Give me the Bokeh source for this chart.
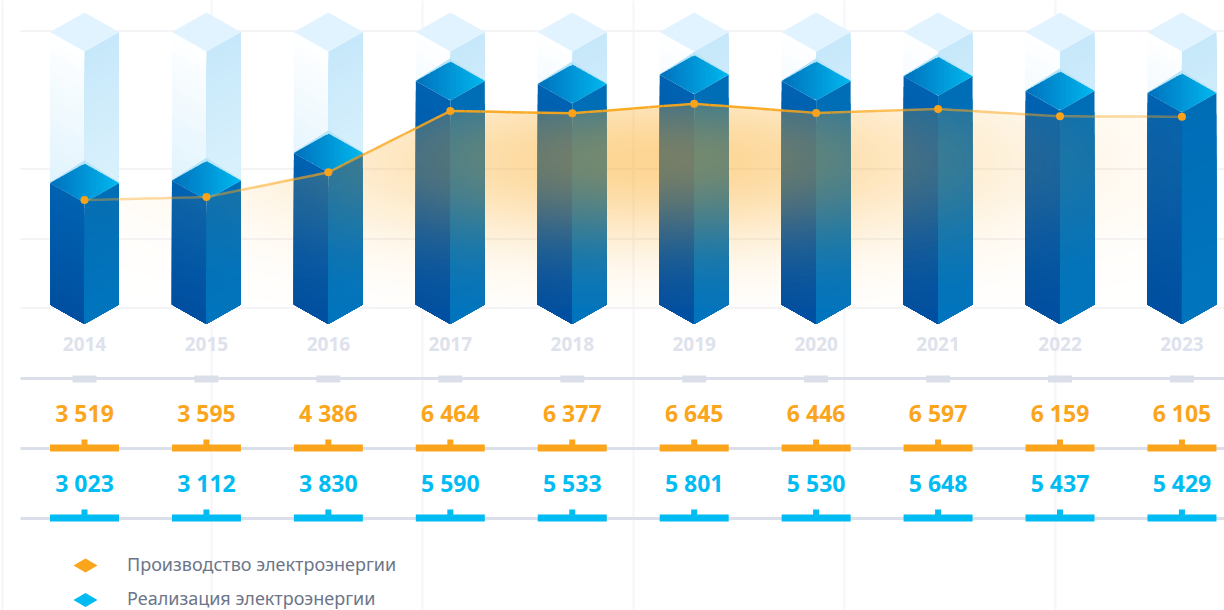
from bokeh.plotting import figure
from bokeh.models import Range1d
from bokeh.core.properties import value
from bokeh.embed import file_html
from bokeh.resources import INLINE
import numpy as np

# ---- data -------------------------------------------------------------
years = ["2014", "2015", "2016", "2017", "2018", "2019", "2020", "2021", "2022", "2023"]
production = [3519, 3595, 4386, 6464, 6377, 6645, 6446, 6597, 6159, 6105]
sales = [3023, 3112, 3830, 5590, 5533, 5801, 5530, 5648, 5437, 5429]
production_drawn = [3495, 3592, 4391, 6375, 6301, 6611, 6311, 6440, 6204, 6190]
sales_drawn = [3060, 3123, 3816, 5630, 5554, 5788, 5630, 5748, 5378, 5327]
capacity = [6865] * 10
grid_levels = [0, 2233, 4498, 8965]
legend_labels = ["Производство электроэнергии", "Реализация электроэнергии"]

ORANGE = "#FBA51C"
CYAN = "#00BCF2"
RULE = "#DADFEA"

FONT_NUM = "Noto Sans"
FONT_TXT = "Noto Sans"


def fmt(v):
    return f"{v:,}".replace(",", " ")


def mix(c0, c1, t):
    c0 = np.array(c0, float)
    c1 = np.array(c1, float)
    r = c0 + (c1 - c0) * float(np.clip(t, 0, 1))
    return "#%02x%02x%02x" % tuple(int(round(v)) for v in r)


W, H = 1224, 610
PXV = 0.0309   # px per production unit
PXB = 0.0397   # px per bar unit
STEP = 121.94  # px per category
X0 = 84.0
p = figure(width=W, height=H, output_backend="svg", toolbar_location=None,
           x_range=Range1d(-X0 / STEP, (1224 - X0) / STEP),
           y_range=Range1d((307.5 - 610) / PXV, 307.5 / PXV),
           min_border=0, outline_line_color=None, background_fill_color="white")
p.axis.visible = False
p.grid.visible = False
p.extra_x_ranges["px"] = Range1d(0, 1224)
p.extra_y_ranges["px"] = Range1d(610, 0)
p.extra_y_ranges["bars"] = Range1d((304 - 610) / PXB, 304 / PXB)

idx = np.arange(len(years), dtype=float)
HW = 34.5 / STEP           # half bar width, in category units
DEPTH = 19.5 / PXB         # isometric depth, in bar units

# ---- background lines ---------------------------------------------------
vx = [2, 211, 422, 633, 844, 1055]
p.segment(x0=vx, x1=vx, y0=[0] * 6, y1=[610] * 6, x_range_name="px", y_range_name="px",
          line_color="#F5F6FA", line_width=2)
p.segment(x0=[-0.53] * 4, x1=[9.348] * 4, y0=grid_levels, y1=grid_levels,
          line_color="#F4F4F7", line_width=2)

# ---- isometric bars -----------------------------------------------------
xs, ys, cs = [], [], []


def face(x_a, x_b, top_a, top_b, bot_a, bot_b, colour_of, n):
    """Vertical face cut in bands painted top-down, to give a gradient."""
    for k in range(n):
        t0 = k / n
        xs.append([x_a, x_b, x_b, x_a])
        ys.append([top_a + (bot_a - top_a) * t0, top_b + (bot_b - top_b) * t0, bot_b, bot_a])
        cs.append(colour_of(top_a + (bot_a - top_a) * (t0 + 0.5 / n)))


def ghost_l(v):
    return mix((255, 255, 255), (224, 243, 253), (capacity[0] - v) / 3800)


def ghost_r(v):
    return mix((196, 231, 250), (216, 240, 252), (capacity[0] - v) / 3800)


for i, lv in zip(idx, sales_drawn):
    cap = capacity[int(i)]
    # pale shadow below the prism
    xs.append([i - HW, i, i + HW, i + HW, i, i - HW])
    ys.append([-2, -DEPTH - 2, -2, 50, -DEPTH + 50, 50])
    cs.append("#DFE4EF")
    # ghost (empty) part
    face(i - HW, i, cap, cap - DEPTH, lv, lv - DEPTH, ghost_l, 16)
    face(i, i + HW, cap - DEPTH, cap, lv - DEPTH, lv, ghost_r, 16)
    xs.append([i - HW, i, i + HW, i])
    ys.append([cap, cap + DEPTH, cap, cap - DEPTH])
    cs.append("#E0F3FE")
    # halo above the filled part
    xs.append([i - HW, i, i + HW, i])
    ys.append([lv + 20, lv + DEPTH + 80, lv + 20, lv - DEPTH])
    cs.append("#B8E5F8")
    # filled part
    face(i - HW, i, lv, lv - DEPTH, 0, -DEPTH,
         lambda v, lv=lv: mix((0, 98, 177), (0, 79, 160), (lv - v) / lv), 22)
    face(i, i + HW, lv - DEPTH, lv, -DEPTH, 0,
         lambda v, lv=lv: mix((0, 108, 182), (0, 116, 189), (lv - v) / lv), 10)
    # top diamond
    n = 24
    for k in range(n):
        a0 = k / n
        a1 = min(1.0, (k + 1.3) / n)
        x0 = i - HW + 2 * HW * a0
        x1 = i - HW + 2 * HW * a1
        up0 = DEPTH * (1 - abs(2 * a0 - 1))
        up1 = DEPTH * (1 - abs(2 * a1 - 1))
        xs.append([x0, x1, x1, x0])
        ys.append([lv + up0, lv + up1, lv - up1, lv - up0])
        cs.append(mix((0, 112, 188), (0, 184, 239), (a0 + 0.5 / n)))

p.patches(xs, ys, y_range_name="bars", fill_color=cs, line_color=None)

# ---- orange area with a soft gradient -----------------------------------
nx, ny = 1097, 205
gx = np.linspace(0, 9, nx)
top = max(production_drawn)
gy = np.linspace(0, top, ny)
line_at = np.interp(gx, idx, production_drawn)
GX, GY = np.meshgrid(gx, gy)
alpha = 0.47 * np.exp(-((GX - 4.65) / 2.8) ** 2 - ((GY - 4790) / 2750.0) ** 2)
edge = np.clip((line_at[None, :] - GY) / (top / ny), 0, 1)
rgba = np.zeros((ny, nx, 4), dtype=np.uint8)
rgba[..., 0], rgba[..., 1], rgba[..., 2] = 250, 166, 26
rgba[..., 3] = (alpha * edge * 255).astype(np.uint8)
img = np.frombuffer(rgba.tobytes(), dtype=np.uint32).reshape(ny, nx)
p.image_rgba(image=[img], x=0, y=0, dw=9, dh=top)

# ---- production line: strong in the middle, fading to both ends ---------
sx0, sx1, sy0, sy1, sa = [], [], [], [], []
for a in range(len(idx) - 1):
    for b in range(8):
        f0, f1 = b / 8, (b + 1) / 8
        sx0.append(idx[a] + f0)
        sx1.append(idx[a] + f1)
        sy0.append(production_drawn[a] + (production_drawn[a + 1] - production_drawn[a]) * f0)
        sy1.append(production_drawn[a] + (production_drawn[a + 1] - production_drawn[a]) * f1)
        sa.append(float(np.interp(idx[a] + (f0 + f1) / 2,
                                  [0, 1, 2, 3, 5.5, 7, 8, 9],
                                  [0.38, 0.42, 0.7, 0.95, 0.95, 0.62, 0.48, 0.4])))
p.segment(x0=sx0, x1=sx1, y0=sy0, y1=sy1, line_color="#FAA61A", line_width=2.5, line_alpha=sa)
p.scatter(idx, production_drawn, size=8, marker="circle", fill_color="#FAA21A", line_color=None)

# ---- year labels --------------------------------------------------------
ypx = lambda v: [v] * len(years)
p.text(idx, ypx(343), text=years, y_range_name="px", text_align="center", text_baseline="middle",
       text_color="#DDE2EC", text_font=value(FONT_NUM), text_font_style="bold", text_font_size="19px")

# ---- table rows ---------------------------------------------------------
rows = [378, 448, 518]
p.segment(x0=[20] * 3, x1=[1224] * 3, y0=rows, y1=rows, x_range_name="px", y_range_name="px",
          line_color=RULE, line_width=3)
p.quad(left=idx - 12 / STEP, right=idx + 12 / STEP, top=ypx(375), bottom=ypx(382),
       y_range_name="px", fill_color=RULE, line_color=None)
for row, col, vals, ty in ((448, ORANGE, production, 412.5), (518, CYAN, sales, 482.5)):
    p.quad(left=idx - HW, right=idx + HW, top=ypx(row - 4), bottom=ypx(row + 3),
           y_range_name="px", fill_color=col, line_color=None)
    p.quad(left=idx - 3 / STEP, right=idx + 3 / STEP, top=ypx(row - 9), bottom=ypx(row - 3),
           y_range_name="px", fill_color=col, line_color=None)
    p.text(idx, ypx(ty), text=[fmt(v) for v in vals], y_range_name="px", text_align="center",
           text_baseline="middle", text_color=col, text_font=value(FONT_NUM),
           text_font_style="bold", text_font_size="23px")

# ---- legend -------------------------------------------------------------
lx, ly = [85, 85], [565, 599.5]
for x, y, col in zip(lx, ly, (ORANGE, CYAN)):
    p.patch([x - 12, x, x + 12, x], [y, y - 7, y, y + 7], x_range_name="px", y_range_name="px",
            fill_color=col, line_color=None)
p.text(x=[126.5, 126.5], y=[563.5, 597.5], text=legend_labels, x_range_name="px", y_range_name="px",
       text_align="left", text_baseline="middle", text_color="#6C7589",
       text_font=value(FONT_TXT), text_font_size="18px")

open("out.html", "w").write(file_html(p, INLINE))
